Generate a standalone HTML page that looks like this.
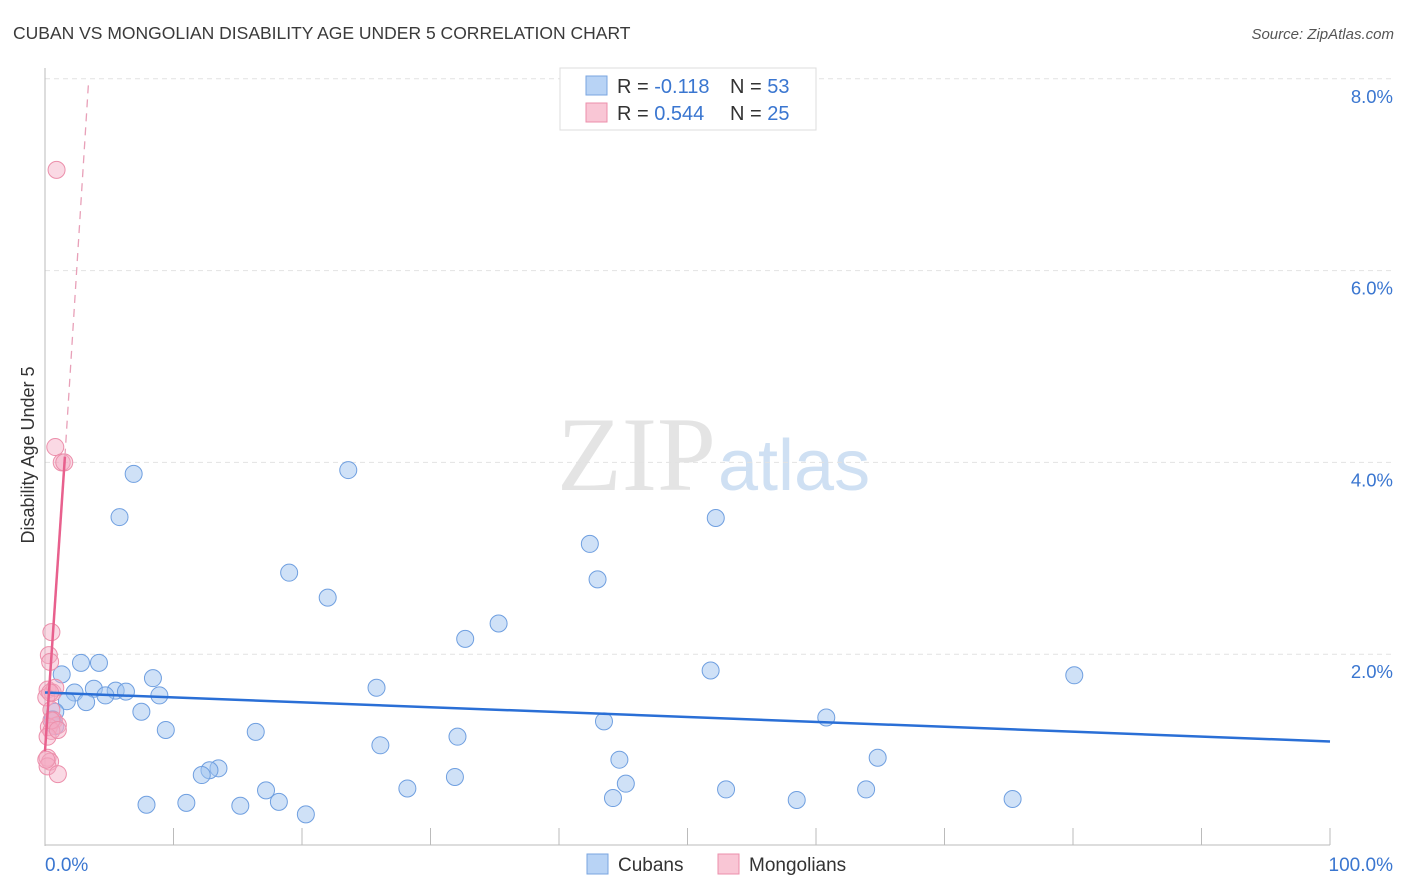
<!DOCTYPE html>
<html><head><meta charset="utf-8"><style>
body{margin:0;background:#fff;font-family:"Liberation Sans",sans-serif;}
svg{display:block}
</style></head><body>
<svg id="chart" width="1406" height="892">
<text x="13" y="39" font-size="17.5" fill="#3a3a3a">CUBAN VS MONGOLIAN DISABILITY AGE UNDER 5 CORRELATION CHART</text>
<text x="1394" y="39" font-size="15" fill="#555" font-style="italic" text-anchor="end">Source: ZipAtlas.com</text>
<text x="716" y="490" font-size="106" fill="#e4e4e4" text-anchor="end" font-family="Liberation Serif">ZIP</text>
<text x="718" y="490" font-size="72" fill="#cfe0f3">atlas</text>
<text transform="translate(34,455) rotate(-90)" font-size="18" fill="#333" text-anchor="middle">Disability Age Under 5</text>
<g id="grid"></g><g id="marks"></g>
<g>
<rect x="560" y="68" width="256" height="62" fill="#fff" stroke="#ddd"/>
<rect x="586" y="76" width="21" height="19" fill="#b8d3f5" stroke="#7aa6e0"/>
<rect x="586" y="103" width="21" height="19" fill="#f9c6d5" stroke="#ec8fab"/>
<text x="617" y="93" font-size="20" fill="#333">R = <tspan fill="#3a76d0">-0.118</tspan></text>
<text x="730" y="93" font-size="20" fill="#333">N = <tspan fill="#3a76d0">53</tspan></text>
<text x="617" y="120" font-size="20" fill="#333">R = <tspan fill="#3a76d0">0.544</tspan></text>
<text x="730" y="120" font-size="20" fill="#333">N = <tspan fill="#3a76d0">25</tspan></text>
</g>
<g>
<rect x="587" y="854" width="21" height="20" fill="#b8d3f5" stroke="#7aa6e0"/>
<text x="618" y="871" font-size="19" fill="#333">Cubans</text>
<rect x="718" y="854" width="21" height="20" fill="#f9c6d5" stroke="#ec8fab"/>
<text x="749" y="871" font-size="19" fill="#333">Mongolians</text>
</g>
</svg>
<script>
const yTicks=[2,4,6,8];
const xTickLabels=["0.0%","100.0%"];
const cubanX=[6.9,5.8,23.6,52.2,42.4,43.0,19.0,22.0,35.3,32.7,2.8,4.2,1.3,8.4,51.8,80.1,3.8,2.3,5.5,6.3,4.7,8.9,25.8,3.2,1.7,7.5,0.8,0.6,0.8,43.5,60.8,9.4,16.4,32.1,26.1,44.7,64.8,13.5,12.8,12.2,31.9,45.2,17.2,28.2,53.0,63.9,18.2,44.2,7.9,11.0,15.2,58.5,75.3,20.3];
const cubanY=[3.88,3.43,3.92,3.42,3.15,2.78,2.85,2.59,2.32,2.16,1.91,1.91,1.79,1.75,1.83,1.78,1.64,1.60,1.62,1.61,1.57,1.57,1.65,1.50,1.51,1.40,1.40,1.32,1.25,1.30,1.34,1.21,1.19,1.14,1.05,0.90,0.92,0.81,0.79,0.74,0.72,0.65,0.58,0.60,0.59,0.59,0.46,0.50,0.43,0.45,0.42,0.48,0.49,0.33];
const mongX=[0.9,0.8,1.3,1.5,0.5,0.3,0.4,0.2,0.6,0.1,0.5,0.7,1.0,0.3,0.5,0.2,0.2,0.4,0.2,1.0,0.5,0.8,0.4,1.0,0.1];
const mongY=[7.05,4.16,4.0,4.0,2.23,1.99,1.92,1.63,1.60,1.55,1.42,1.31,1.26,1.24,1.20,1.14,0.92,0.88,0.83,0.75,1.31,1.65,1.60,1.21,0.90];
const cubanTrend=[[0,1.60],[100,1.09]];
const mongTrend=[[0,0.99],[1.55,4.06]];
const mongDash=[[1.55,4.06],[3.4,7.99]];
const X0=45,X1=1330,Y0=846,YPX=95.9;
const sx=v=>X0+(X1-X0)*v/100, sy=v=>Y0-YPX*v;
const NS="http://www.w3.org/2000/svg";
const grid=document.getElementById('grid'),marks=document.getElementById('marks');
function mk(tag,attrs,parent){const e=document.createElementNS(NS,tag);for(const k in attrs)e.setAttribute(k,attrs[k]);parent.appendChild(e);return e;}
yTicks.forEach(t=>{
 const l=mk('line',{x1:X0,x2:1394,y1:sy(t),y2:sy(t),stroke:'#e2e2e2','stroke-dasharray':'5,4'},grid);
 
 
 const tx=mk('text',{x:1393,y:sy(t)+24,'font-size':18.5,fill:'#3a76d0','text-anchor':'end'},grid);
 tx.textContent=t.toFixed(1)+'%';
 
 
});
mk('line',{x1:X0,x2:X0,y1:68,y2:846,stroke:'#bbb'},grid);
mk('line',{x1:X0,x2:X1,y1:845,y2:845,stroke:'#bbb'},grid);
for(let i=0;i<=10;i++){const t=mk('line',{x1:sx(i*10),x2:sx(i*10),y1:828,y2:845,stroke:'#bbb'},grid);
 
 }
[[X0+0,'start',0],[1393,'end',1]].forEach(([x,a,i])=>{const t=mk('text',{x:x,y:871,'font-size':19,fill:'#3a76d0','text-anchor':a},grid);t.textContent=xTickLabels[i];
 
 });
cubanX.forEach((v,i)=>{const c=mk('circle',{cx:sx(v),cy:sy(cubanY[i]),r:8.5,fill:'rgba(160,196,240,0.5)',stroke:'#6f9fe0','stroke-width':1},marks);
 
 });
mongX.forEach((v,i)=>{const c=mk('circle',{cx:sx(v),cy:sy(mongY[i]),r:8.5,fill:'rgba(245,170,195,0.45)',stroke:'#ec8fab','stroke-width':1},marks);
 
 });
const l1=mk('line',{x1:sx(cubanTrend[0][0]),y1:sy(cubanTrend[0][1]),x2:sx(cubanTrend[1][0]),y2:sy(cubanTrend[1][1]),stroke:'#2a6fd6','stroke-width':2.5},marks);


const l2=mk('line',{x1:sx(mongTrend[0][0]),y1:sy(mongTrend[0][1]),x2:sx(mongTrend[1][0]),y2:sy(mongTrend[1][1]),stroke:'#e8608d','stroke-width':2.5},marks);


const l3=mk('line',{x1:sx(mongDash[0][0]),y1:sy(mongDash[0][1]),x2:sx(mongDash[1][0]),y2:sy(mongDash[1][1]),stroke:'#e8a0b8','stroke-width':1.3,'stroke-dasharray':'8,6'},marks);


</script>
</body></html>
